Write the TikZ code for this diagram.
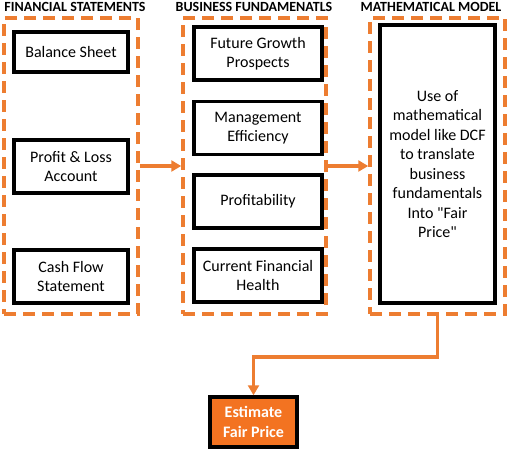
\documentclass[tikz,border=0pt]{standalone}
\usepackage{fontspec}
\setmainfont{Carlito}
\usetikzlibrary{arrows.meta,positioning}
\definecolor{dcforange}{HTML}{ED7D31}
\definecolor{dcffill}{HTML}{F37321}
\tikzstyle{every picture}=[x=1pt, y=-1pt, >={Triangle[length=10pt,width=11pt]}]
\tikzstyle{group}=[draw=dcforange, line width=3.5pt, dash pattern=on 12pt off 7pt,%
	inner sep=0pt, minimum width=134pt, minimum height=296pt]
\tikzstyle{item}=[draw=black, line width=3.5pt, align=center, inner sep=0pt,%
	minimum height=53pt, font=\fontsize{16}{19.5}\selectfont]
\tikzstyle{head}=[font=\fontsize{14}{17}\selectfont\bfseries, anchor=base, inner sep=0pt]
\tikzstyle{flow}=[->, draw=dcforange, line width=3.5pt]

\begin{document}
\begin{tikzpicture}
	\useasboundingbox (0,0) rectangle (507,450);
	% column headings
	\node[head] (hfs) at (75,11) {FINANCIAL STATEMENTS};
	\node[head] (hbf) at (254,11) {BUSINESS FUNDAMENATLS};
	\node[head] (hmm) at (431,11) {MATHEMATICAL MODEL};
	% dashed groups
	\node[group] (fs) at (71,166) {};
	\node[group, minimum width=143pt] (bf) at (254.5,166) {};
	\node[group, minimum width=135pt] (mm) at (437.5,166) {};
	% financial statements
	\node[item, minimum width=114pt, minimum height=40pt] (bs) at (71,52) {Balance Sheet};
	\node[item, minimum width=114pt] (pl) at (71,166.5) {Profit \& Loss\\Account};
	\node[item, minimum width=114pt] (cf) at (71,276.5) {Cash Flow\\Statement};
	% business fundamentals
	\node[item, minimum width=128pt] (fg) at (258,53.5) {Future Growth\\Prospects};
	\node[item, minimum width=128pt] (me) at (258,128) {Management\\Efficiency};
	\node[item, minimum width=128pt] (pr) at (258,201.5) {Profitability};
	\node[item, minimum width=128pt] (cfh) at (258,275.5) {Current Financial\\Health};
	% mathematical model
	\node[item, minimum width=115pt, minimum height=278pt] (dcf) at (437.5,164)
		{Use of\\mathematical\\model like DCF\\to translate\\business\\fundamentals\\%
		Into \textquotedbl Fair\\Price\textquotedbl};
	% result
	\node[item, fill=dcffill, text=white, font=\fontsize{16}{19.5}\selectfont\bfseries,%
		minimum width=87pt, minimum height=50pt] (fp) at (253.5,422) {Estimate\\Fair Price};
	\foreach \a/\b in {fs/bf, bf/mm} {
		\draw[flow] (\a) -- (\b);
	}
	\draw[flow] (mm.south) -- ++(0,41) -| (fp.north);
\end{tikzpicture}
\end{document}
